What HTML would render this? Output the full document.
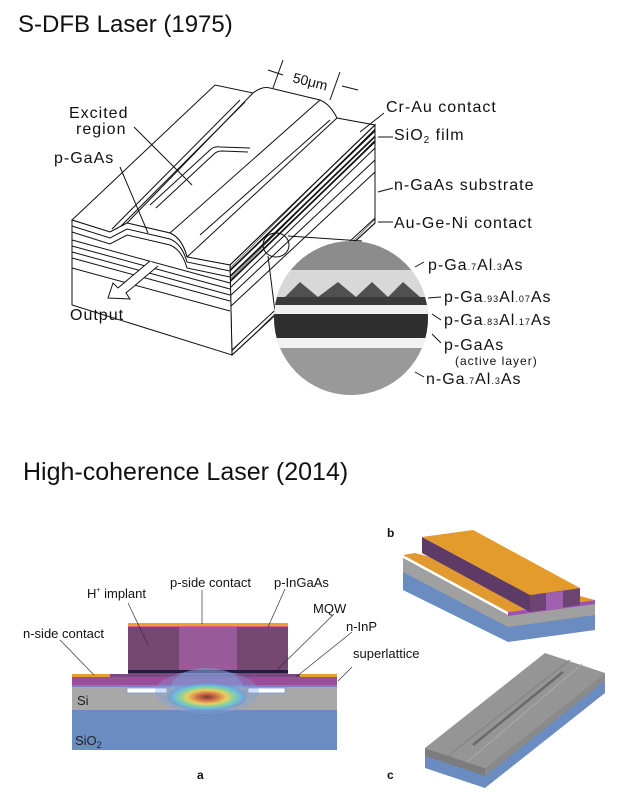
<!DOCTYPE html>
<html><head><meta charset="utf-8"><style>
html,body{margin:0;padding:0;background:#fff;}
svg{display:block;}
text{font-family:"Liberation Sans",sans-serif;}
</style></head><body>
<svg width="622" height="800" viewBox="0 0 622 800" xmlns="http://www.w3.org/2000/svg">
<defs>
<radialGradient id="mode" cx="0.5" cy="0.5" r="0.5">
<stop offset="0" stop-color="#7a3a30"/>
<stop offset="0.25" stop-color="#d0704a"/>
<stop offset="0.5" stop-color="#e8d060"/>
<stop offset="0.68" stop-color="#88d0a0"/>
<stop offset="0.85" stop-color="#6ab8e0"/>
<stop offset="1" stop-color="#6a8ad0" stop-opacity="0.3"/>
</radialGradient>
<clipPath id="circ"><circle cx="351" cy="318" r="77"/></clipPath>
<pattern id="hatch" width="4" height="4" patternUnits="userSpaceOnUse" patternTransform="rotate(45)">
<line x1="0" y1="0" x2="0" y2="4" stroke="#000" stroke-width="1"/></pattern>
</defs>

<text x="18" y="32" font-size="24" fill="#111">S-DFB Laser (1975)</text>

<g fill="none" stroke="#111" stroke-width="1">
<path d="M72,220 L215,85 L253,93 Q262,86 270,88 L320,100 Q330,104 337,118 L375,125 L230,265 L187,257 Q182,238 170,233 L127,223 L110,232 Z" fill="#fff"/>
<line x1="127" y1="223" x2="253" y2="93"/>
<line x1="170" y1="233" x2="320" y2="100"/>
<line x1="187" y1="257" x2="337" y2="118"/>
<line x1="112" y1="229" x2="240" y2="100"/>
<line x1="116" y1="231" x2="245" y2="102"/>
<line x1="200" y1="235" x2="330" y2="120"/>
<path d="M150,205 L210,150 Q214,146 220,147 L250,148" />
<path d="M156,208 L214,154 Q217,151 222,151 L248,152" />
<path d="M230,265 L375,125 L375,223 L232,355 Z" fill="#fff"/>
<path d="M230,270 L375,130 M230,276 L375,136 M230,282 L375,142 M230,288 L375,148 M230,296 L375,160 M230,307 L375,172"/>
<path d="M230,265 L375,125 L375,131 L230,271 Z" fill="url(#hatch)"/>
<path d="M230,277 L375,137 L375,141 L230,281 Z" fill="url(#hatch)"/>
<path d="M232,350 L375,218 L375,223 L232,355 Z" fill="url(#hatch)"/>
<path d="M72,220 L110,232 L127,223 L170,233 Q182,238 187,257 L230,265 L232,355 L72,305 Z" fill="#fff"/>
<path d="M72,226 L110,238 L127,229 L170,239 Q182,244 187,262 L230,271"/>
<path d="M72,232 L110,244 L127,235 L170,245 Q182,250 187,268 L230,277"/>
<path d="M72,240 L230,283 M72,246 L230,289 M72,252 L230,295 M72,258 L230,301 M72,268 L230,311"/>
<path d="M158,266 L126,293 L130,299 L108,298 L113,283 L118,288 L150,261" fill="#fff"/>
<line x1="134" y1="127" x2="192" y2="185"/>
<line x1="120" y1="167" x2="148" y2="233"/>
<line x1="384" y1="113" x2="360" y2="132"/>
<line x1="393" y1="137" x2="378" y2="137"/>
<line x1="393" y1="188" x2="378" y2="192"/>
<line x1="393" y1="222" x2="378" y2="222"/>
<ellipse cx="276" cy="245" rx="13" ry="12"/>
<line x1="288" y1="236" x2="362" y2="241"/>
<line x1="268" y1="256" x2="276" y2="320"/>
<line x1="424" y1="262" x2="415" y2="267"/>
<line x1="441" y1="297" x2="428" y2="298"/>
<line x1="441" y1="320" x2="432" y2="314"/>
<line x1="441" y1="343" x2="432" y2="334"/>
<line x1="424" y1="377" x2="415" y2="372"/>
<line x1="273" y1="88" x2="283" y2="60"/>
<line x1="330" y1="100" x2="340" y2="72"/>
<line x1="268" y1="70" x2="283" y2="75"/>
<line x1="342" y1="86" x2="358" y2="90"/>
</g>
<text x="292" y="82" font-size="14" transform="rotate(14 292 82)" fill="#111">50μm</text>

<g clip-path="url(#circ)">
<rect x="270" y="238" width="165" height="160" fill="#8c8c8c"/>
<rect x="270" y="270" width="165" height="30" fill="#d8d8d8"/>
<rect x="270" y="297" width="165" height="8" fill="#3a3a3a"/>
<path d="M285,297 L300,282 L318,297 L338,282 L356,297 L372,282 L388,297 L403,282 L420,297 Z" fill="#505050"/>
<rect x="270" y="305" width="165" height="9" fill="#f0f0f0"/>
<rect x="270" y="314" width="165" height="24" fill="#2e2e2e"/>
<rect x="270" y="338" width="165" height="10" fill="#f2f2f2"/>
<rect x="270" y="348" width="165" height="50" fill="#999"/>
</g>

<g font-size="16" fill="#111" letter-spacing="1">
<text x="69" y="118">Excited</text>
<text x="76" y="134">region</text>
<text x="54" y="163">p-GaAs</text>
<text x="386" y="112">Cr-Au contact</text>
<text x="394" y="140">SiO<tspan font-size="10" dy="3">2</tspan><tspan dy="-3"> film</tspan></text>
<text x="394" y="190">n-GaAs substrate</text>
<text x="394" y="228">Au-Ge-Ni contact</text>
<text x="428" y="270">p-Ga<tspan font-size="9">.7</tspan>Al<tspan font-size="9">.3</tspan>As</text>
<text x="444" y="302">p-Ga<tspan font-size="9">.93</tspan>Al<tspan font-size="9">.07</tspan>As</text>
<text x="444" y="325">p-Ga<tspan font-size="9">.83</tspan>Al<tspan font-size="9">.17</tspan>As</text>
<text x="444" y="350">p-GaAs</text>
<text x="455" y="365" font-size="12">(active layer)</text>
<text x="426" y="384">n-Ga<tspan font-size="9">.7</tspan>Al<tspan font-size="9">.3</tspan>As</text>
<text x="70" y="320">Output</text>
</g>

<text x="23" y="480" font-size="25" fill="#111">High-coherence Laser (2014)</text>

<rect x="72" y="710" width="265" height="40" fill="#6a8cc0"/>
<rect x="72" y="687" width="265" height="23" fill="#a8a8a8"/>
<rect x="72" y="677" width="265" height="8" fill="#9a4e98"/>
<rect x="72" y="685" width="265" height="2" fill="#7a80c8"/>
<rect x="72" y="674" width="265" height="3" fill="#7a4a88"/>
<rect x="72" y="674" width="38" height="3" fill="#e0a030"/>
<rect x="300" y="674" width="37" height="3" fill="#e0a030"/>
<rect x="127" y="688" width="40" height="5" fill="#fff" stroke="#7a9ad0" stroke-width="0.8"/>
<rect x="248" y="688" width="37" height="5" fill="#fff" stroke="#7a9ad0" stroke-width="0.8"/>
<rect x="128" y="626" width="160" height="48" fill="#744870"/>
<rect x="179" y="626" width="58" height="48" fill="#985a98"/>
<rect x="128" y="670" width="160" height="3" fill="#1e1a40"/>
<rect x="128" y="623" width="160" height="3" fill="#e8a030"/>
<rect x="128" y="626" width="160" height="1" fill="#e05a90"/>
<ellipse cx="207" cy="692" rx="52" ry="22" fill="#7aa0e0" opacity="0.35"/>
<ellipse cx="207" cy="688" rx="36" ry="20" fill="#80b0e0" opacity="0.4"/>
<ellipse cx="207" cy="697" rx="40" ry="14" fill="url(#mode)"/>
<g stroke="#333" stroke-width="0.7">
<line x1="60" y1="640" x2="94" y2="675"/>
<line x1="128" y1="603" x2="148" y2="645"/>
<line x1="202" y1="590" x2="202" y2="624"/>
<line x1="285" y1="589" x2="268" y2="627"/>
<line x1="334" y1="614" x2="276" y2="671"/>
<line x1="352" y1="632" x2="296" y2="677"/>
<line x1="352" y1="667" x2="338" y2="681"/>
</g>
<g font-size="13" fill="#111">
<text x="23" y="638">n-side contact</text>
<text x="87" y="598">H<tspan font-size="7" dy="-6">+</tspan><tspan dy="6"> implant</tspan></text>
<text x="170" y="587">p-side contact</text>
<text x="274" y="587">p-InGaAs</text>
<text x="313" y="613">MQW</text>
<text x="346" y="631">n-InP</text>
<text x="353" y="658">superlattice</text>
<text x="77" y="705" fill="#222">Si</text>
<text x="75" y="745" fill="#222">SiO<tspan font-size="9" dy="3">2</tspan></text>
<text x="197" y="779" font-weight="bold" font-size="12">a</text>
<text x="387" y="537" font-weight="bold" font-size="12">b</text>
<text x="387" y="779" font-weight="bold" font-size="12">c</text>
</g>

<polygon points="403,558 508,615 508,642 403,590" fill="#6a8cc0"/>
<polygon points="403,558 508,615 508,627 403,572" fill="#a0a0a0"/>
<polygon points="508,615 595,603 595,630 508,642" fill="#6a8cc0"/>
<polygon points="508,615 595,603 595,615 508,627" fill="#a0a0a0"/>
<polygon points="508,612 595,600 595,604 508,616" fill="#a050b0"/>
<polygon points="403,555 415,553 595,600 508,612" fill="#e09a30"/>
<polygon points="422,537 530,595 530,612 422,553" fill="#5e3a66"/>
<polygon points="530,595 580,588 580,605 530,612" fill="#6e4474"/>
<polygon points="546,593 563,591 563,608 546,610" fill="#a060b0"/>
<polygon points="422,537 473,530 580,588 530,595" fill="#e39b2c"/>

<polygon points="425,748 485,768 485,788 425,768" fill="#6a8cc0"/>
<polygon points="425,748 485,768 485,776 425,756" fill="#7c7c7c"/>
<polygon points="485,768 605,673 605,693 485,788" fill="#6a8cc0"/>
<polygon points="485,768 605,673 605,681 485,776" fill="#8a8a8a"/>
<polygon points="425,748 545,653 605,673 485,768" fill="#959595"/>
<line x1="448" y1="756" x2="570" y2="660" stroke="#808080" stroke-width="1"/>
<line x1="467" y1="762" x2="582" y2="664" stroke="#aaa" stroke-width="1"/>
<line x1="473" y1="745" x2="563" y2="672" stroke="#6a6a6a" stroke-width="2.5"/>
</svg>
</body></html>
